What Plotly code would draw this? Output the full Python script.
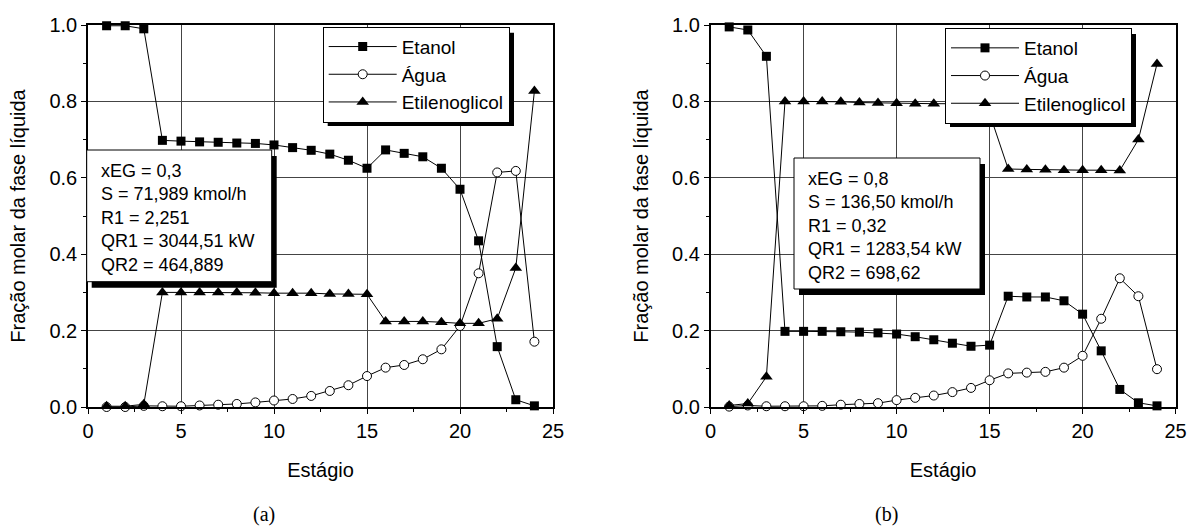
import plotly.graph_objects as go

# ---------------- data ----------------
stages = list(range(1, 25))

etanol_a = [0.998, 0.998, 0.990, 0.698, 0.696, 0.694, 0.693, 0.691, 0.690, 0.686, 0.679, 0.672,
            0.662, 0.646, 0.625, 0.673, 0.664, 0.655, 0.625, 0.570, 0.435, 0.158, 0.019, 0.003]
agua_a = [0.000, 0.000, 0.003, 0.002, 0.002, 0.004, 0.006, 0.008, 0.012, 0.017, 0.021, 0.029,
          0.042, 0.057, 0.081, 0.103, 0.110, 0.125, 0.151, 0.212, 0.350, 0.614, 0.618, 0.171]
eg_a = [0.002, 0.002, 0.007, 0.300, 0.300, 0.300, 0.300, 0.300, 0.299, 0.298, 0.298, 0.298,
        0.296, 0.296, 0.295, 0.224, 0.224, 0.224, 0.222, 0.219, 0.219, 0.231, 0.364, 0.827]

etanol_b = [0.995, 0.987, 0.918, 0.198, 0.198, 0.198, 0.197, 0.196, 0.194, 0.191, 0.184, 0.176,
            0.167, 0.159, 0.162, 0.290, 0.288, 0.288, 0.278, 0.243, 0.147, 0.046, 0.011, 0.003]
agua_b = [0.001, 0.004, 0.002, 0.002, 0.002, 0.003, 0.006, 0.008, 0.010, 0.018, 0.024, 0.030,
          0.039, 0.050, 0.070, 0.088, 0.090, 0.092, 0.103, 0.134, 0.231, 0.337, 0.290, 0.099]
eg_b = [0.004, 0.009, 0.079, 0.800, 0.800, 0.800, 0.799, 0.797, 0.796, 0.795, 0.794, 0.794,
        0.794, 0.791, 0.768, 0.623, 0.622, 0.621, 0.620, 0.620, 0.620, 0.619, 0.700, 0.898]

series_names = ["Etanol", "Água", "Etilenoglicol"]
x_ticks = [0, 5, 10, 15, 20, 25]
y_ticks = [0.0, 0.2, 0.4, 0.6, 0.8, 1.0]
x_title = "Estágio"
y_title = "Fração molar da fase líquida"
info_a = ["xEG = 0,3", "S = 71,989 kmol/h", "R1 = 2,251", "QR1 = 3044,51 kW", "QR2 = 464,889"]
info_b = ["xEG = 0,8", "S = 136,50 kmol/h", "R1 = 0,32", "QR1 = 1283,54 kW", "QR2 = 698,62"]
panel_labels = ["(a)", "(b)"]

# ---------------- layout helpers ----------------
W, H = 1188, 527
FONT = "Liberation Sans, Arial, sans-serif"


def px(x):
    return x / W


def py(y):
    return 1 - y / H


marker_styles = [
    dict(symbol="square", size=9, color="black"),
    dict(symbol="circle", size=9, color="white", line=dict(color="black", width=1)),
    dict(symbol="triangle-up", size=11, color="black"),
]

fig = go.Figure()

panels = [
    dict(data=[etanol_a, agua_a, eg_a], xa="x", ya="y", legend="legend"),
    dict(data=[etanol_b, agua_b, eg_b], xa="x2", ya="y2", legend="legend2"),
]
for p in panels:
    for name, vals, ms in zip(series_names, p["data"], marker_styles):
        fig.add_trace(go.Scatter(
            x=stages, y=vals, name=name, mode="lines+markers",
            line=dict(color="black", width=1), marker=ms,
            xaxis=p["xa"], yaxis=p["ya"], legend=p["legend"], cliponaxis=False,
        ))

axis_common = dict(
    showline=True, linecolor="black", linewidth=1.5, mirror=True, automargin=False,
    ticks="outside", ticklen=5, tickwidth=1.2, tickcolor="black",
    showgrid=True, gridcolor="#444", gridwidth=1, zeroline=False,
    tickfont=dict(family=FONT, size=20, color="black"),
)
xaxis_common = dict(axis_common, range=[0, 25], tickvals=x_ticks,
                    minor=dict(dtick=2.5, ticks="outside", ticklen=3, showgrid=False, tickcolor="black"),
                    title=dict(text=x_title, font=dict(family=FONT, size=20, color="black"), standoff=22))
yaxis_common = dict(axis_common, range=[0, 1.0], tickvals=y_ticks, tickformat=".1f",
                    minor=dict(dtick=0.1, ticks="outside", ticklen=3, showgrid=False, tickcolor="black"),
                    title=dict(text=y_title, font=dict(family=FONT, size=20, color="black"), standoff=18))

ydom = [py(407), py(25)]
legend_common = dict(xanchor="left", yanchor="top", bgcolor="white", bordercolor="black",
                     borderwidth=1, font=dict(family=FONT, size=19, color="black"),
                     tracegroupgap=0, itemwidth=68)
fig.update_layout(
    width=W, height=H, margin=dict(l=0, r=0, t=0, b=0, autoexpand=False),
    paper_bgcolor="white", plot_bgcolor="white",
    xaxis=dict(xaxis_common, domain=[px(88), px(553)], anchor="y"),
    yaxis=dict(yaxis_common, domain=ydom, anchor="x"),
    xaxis2=dict(xaxis_common, domain=[px(710.6), px(1175.6)], anchor="y2"),
    yaxis2=dict(yaxis_common, domain=ydom, anchor="x2"),
    legend=dict(legend_common, x=px(322.7), y=py(26.7)),
    legend2=dict(legend_common, x=px(945), y=py(28)),
    showlegend=True,
)

# info boxes (background + shadow) and legend shadows
boxes = [
    dict(x0=86.7, x1=271.7, y0=150, y1=281.7),
    dict(x0=794, x1=980, y0=158, y1=289),
]
leg_boxes = [
    dict(x0=322.7, x1=509, y0=26.7, y1=120),
    dict(x0=945, x1=1131, y0=28, y1=121),
]
shapes = []
for b in boxes + leg_boxes:
    shapes.append(dict(type="rect", xref="paper", yref="paper", layer="above",
                       x0=px(b["x0"] + 5), x1=px(b["x1"] + 5), y0=py(b["y0"] + 6), y1=py(b["y1"] + 6),
                       fillcolor="black", line=dict(width=0)))
for b in boxes:
    shapes.append(dict(type="rect", xref="paper", yref="paper", layer="above",
                       x0=px(b["x0"]), x1=px(b["x1"]), y0=py(b["y0"]), y1=py(b["y1"]),
                       fillcolor="white", line=dict(color="black", width=1)))
fig.update_layout(shapes=shapes)

for b, info in zip(boxes, [info_a, info_b]):
    fig.add_annotation(xref="paper", yref="paper", x=px(b["x0"] + 12), y=py(b["y0"] + 9),
                       xanchor="left", yanchor="top", align="left", showarrow=False,
                       text="<br>".join(info), font=dict(family=FONT, size=18, color="black"))

for lab, xc in zip(panel_labels, [264, 886]):
    fig.add_annotation(xref="paper", yref="paper", x=px(xc), y=py(514),
                       xanchor="center", yanchor="middle", showarrow=False, text=lab,
                       font=dict(family="Liberation Serif, Times New Roman, serif", size=20, color="black"))

# remove the default page margin so the figure fills the window exactly
fig.write_html("out.html", config={"displayModeBar": False},
               post_script="document.body.style.margin='0px';")
